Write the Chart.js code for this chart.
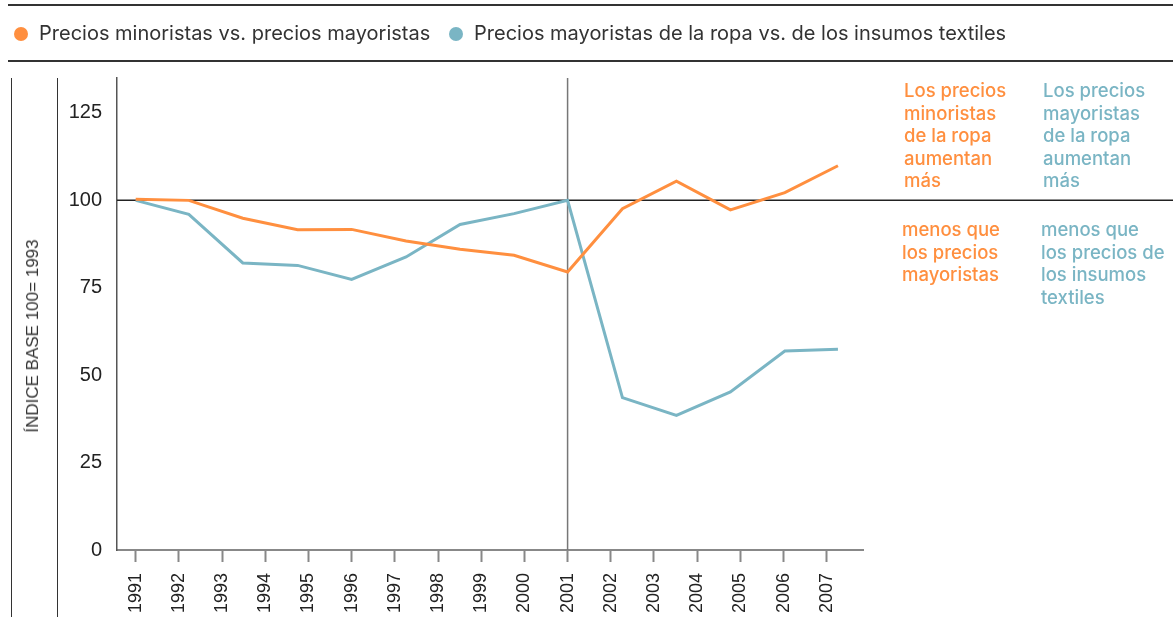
<!DOCTYPE html>
<html>
<head>
<meta charset="utf-8">
<script src="https://cdn.jsdelivr.net/npm/chart.js@4"></script>
<style>
    body { margin: 0; background: #fff; }
    #wrap { position: relative; width: 1173px; height: 626px; overflow: hidden; font-family: Inter, "Liberation Sans", sans-serif; }
    #chart { position: absolute; left: 0; top: 0; }
    .hline { position: absolute; left: 8px; right: 0; height: 2px; background: #333; }
    .vline { position: absolute; top: 78px; width: 1px; height: 539px; background: #333; }
    .legend { position: absolute; top: 20px; font-size: 20px; color: #333; line-height: 26px; white-space: nowrap; }
    .dot { display: inline-block; width: 14px; height: 14px; border-radius: 50%; vertical-align: -1px; margin-right: 11px; }
    #yTitle { position: absolute; left: 33px; top: 336px; transform: translate(-50%, -50%) rotate(-90deg); font-family: "Liberation Sans", Arial, sans-serif; font-size: 17px; color: #333; white-space: nowrap; }
    .note { position: absolute; font-size: 18.5px; font-weight: 500; line-height: 22.5px; white-space: nowrap; }
    .orange { color: #ff8f3f; }
    .teal { color: #7ab5c4; }
</style>
</head>
<body>
<div id="wrap">
    <canvas id="chart" width="1173" height="626"></canvas>
    <div class="hline" style="top:4px"></div>
    <div class="hline" style="top:60px"></div>
    <div class="legend" style="left:14px"><span class="dot" style="background:#ff8f3f"></span>Precios minoristas vs. precios mayoristas</div>
    <div class="legend" style="left:449px"><span class="dot" style="background:#7ab5c4"></span>Precios mayoristas de la ropa vs. de los insumos textiles</div>
    <div class="vline" style="left:11px"></div>
    <div class="vline" style="left:57px"></div>
    <div id="yTitle">ÍNDICE BASE 100= 1993</div>
    <div class="note orange" style="left:904px; top:79px">Los precios<br>minoristas<br>de la ropa<br>aumentan<br>más</div>
    <div class="note teal" style="left:1043px; top:79px">Los precios<br>mayoristas<br>de la ropa<br>aumentan<br>más</div>
    <div class="note orange" style="left:902px; top:218px">menos que<br>los precios<br>mayoristas</div>
    <div class="note teal" style="left:1041px; top:218px">menos que<br>los precios de<br>los insumos<br>textiles</div>
</div>
<script>
// años del eje x
const years = [1991, 1992, 1993, 1994, 1995, 1996, 1997, 1998, 1999, 2000, 2001, 2002, 2003, 2004, 2005, 2006, 2007]
// posición (en años) de cada punto de las series
const pointYears = [1991, 1992.23, 1993.48, 1994.75, 1996.0, 1997.26, 1998.51, 1999.76, 2001.0, 2002.27, 2003.52, 2004.77, 2006.03, 2007.26]
const minoristasVsMayoristas = [100.3, 100, 94.9, 91.6, 91.7, 88.4, 86, 84.3, 79.5, 97.6, 105.5, 97.3, 102.2, 109.9]
const mayoristasVsInsumos = [100, 96, 82.1, 81.4, 77.4, 83.8, 93.1, 96.2, 100, 43.6, 38.5, 45.2, 56.9, 57.4]
const yTicks = [0, 25, 50, 75, 100, 125]
const baseValue = 100
const splitYear = 2001

const toPoints = (values) => values.map((v, i) => ({ x: pointYears[i], y: v }))

const refLines = {
    id: 'refLines',
    beforeDatasetsDraw: (chart) => {
        const ctx = chart.ctx
        const area = chart.chartArea
        const yPos = chart.scales.y.getPixelForValue(baseValue)
        const xPos = chart.scales.x.getPixelForValue(splitYear)
        ctx.save()
        ctx.strokeStyle = '#222'
        ctx.lineWidth = 1.5
        ctx.beginPath()
        ctx.moveTo(area.left, yPos)
        ctx.lineTo(chart.width, yPos)
        ctx.stroke()
        ctx.strokeStyle = '#777'
        ctx.beginPath()
        ctx.moveTo(xPos, area.top)
        ctx.lineTo(xPos, area.bottom)
        ctx.stroke()
        ctx.restore()
    }
}

new Chart(document.getElementById('chart'), {
    type: 'line',
    data: {
        datasets: [{
            label: 'Precios minoristas vs. precios mayoristas',
            data: toPoints(minoristasVsMayoristas),
            borderColor: '#ff8f3f',
            borderWidth: 3,
            pointRadius: 0,
            tension: 0
        }, {
            label: 'Precios mayoristas de la ropa vs. de los insumos textiles',
            data: toPoints(mayoristasVsInsumos),
            borderColor: '#7ab5c4',
            borderWidth: 3,
            pointRadius: 0,
            tension: 0
        }]
    },
    options: {
        responsive: false,
        animation: false,
        layout: { padding: { top: 78, right: 310, left: 60, bottom: 0 } },
        plugins: { legend: { display: false }, tooltip: { enabled: false } },
        scales: {
            x: {
                type: 'linear',
                min: 1990.567,
                max: 2007.84,
                afterBuildTicks: (scale) => { scale.ticks = years.map(v => ({ value: v })) },
                afterFit: (scale) => { scale.height = 76 },
                grid: { display: true, drawOnChartArea: false, drawTicks: true, tickLength: 12, tickColor: '#888', tickWidth: 2 },
                border: { display: true, color: '#888', width: 2 },
                ticks: {
                    autoSkip: false,
                    maxRotation: 90,
                    minRotation: 90,
                    padding: 11,
                    color: '#222',
                    font: { family: '"Liberation Sans", Arial, sans-serif', size: 18 },
                    callback: (v) => String(v)
                }
            },
            y: {
                min: 0,
                max: 135,
                afterBuildTicks: (scale) => { scale.ticks = yTicks.map(v => ({ value: v })) },
                afterFit: (scale) => { scale.width = 57 },
                grid: { display: false, drawTicks: false },
                border: { display: true, color: '#555', width: 1.5 },
                ticks: {
                    padding: 15,
                    color: '#222',
                    font: { family: '"Liberation Sans", Arial, sans-serif', size: 20 }
                }
            }
        }
    },
    plugins: [refLines]
})
</script>
</body>
</html>
